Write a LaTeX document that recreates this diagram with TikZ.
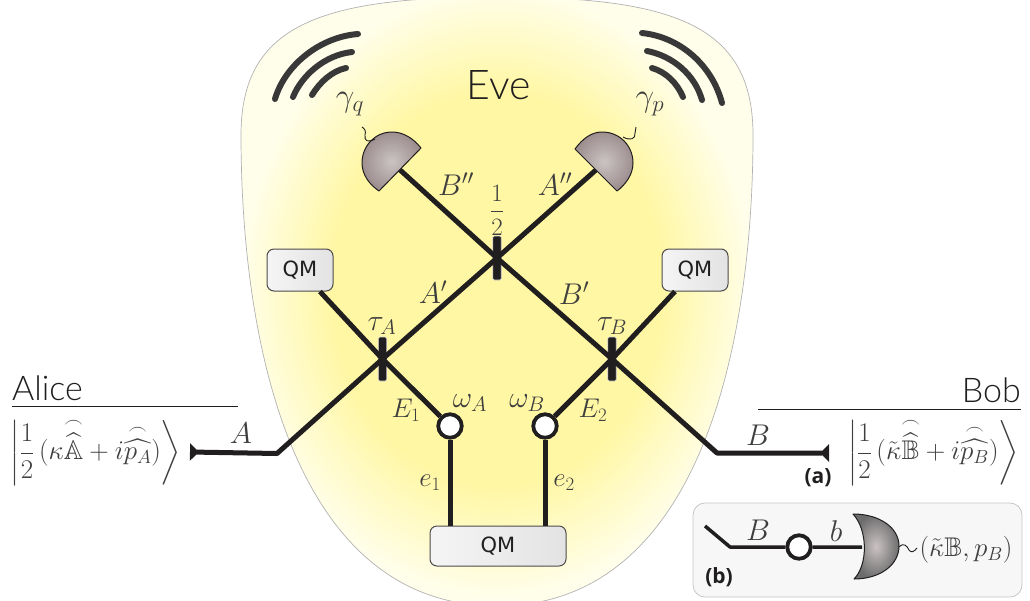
\documentclass[tikz,border=0pt]{standalone}
\usepackage{fix-cm}
\usepackage{amsmath,amssymb}
\usepackage{fontspec}
\usepackage{xcolor}
\usetikzlibrary{arrows.meta,shapes,positioning,calc}
\newfontfamily\thinfont{Lato Light}
\newfontfamily\qmfont{DejaVu Sans}
\newfontfamily\tagfont{Open Sans}
\definecolor{linedark}{RGB}{32, 30, 30}
\definecolor{labelgray}{RGB}{62, 62, 62}
\definecolor{eveyellow}{RGB}{255, 247, 163}
\definecolor{evepale}{RGB}{255, 254, 234}
\definecolor{detinner}{RGB}{203, 195, 195}
\definecolor{detouter}{RGB}{158, 143, 143}
\definecolor{panelgray}{RGB}{247, 247, 247}
\pgfdeclareradialshading{evefade}{\pgfpoint{0bp}{1.5bp}}{color(0bp)=(eveyellow); color(16bp)=(eveyellow); color(25bp)=(evepale); color(50bp)=(evepale)}
\newcommand{\fsz}[1]{\fontsize{#1}{#1}\selectfont}
\newcommand{\wifihat}[1]{\overset{\frown}{\widehat{#1}}}
\tikzset{
    beam/.style={line width=5pt,linedark},
    wave/.style={line width=6pt,labelgray!90!black,line cap=round},
    wiggle/.style={line width=0.9pt,linedark},
    lab/.style={text=labelgray,inner sep=0pt,font=\fsz{30}},
    labsmall/.style={text=labelgray,inner sep=0pt,font=\fsz{27}},
    ketlab/.style={text=labelgray,inner sep=0pt,font=\fsz{27}},
    namelab/.style={text=linedark,inner sep=0pt,font=\thinfont\fsz{34}},
    tag/.style={text=linedark,inner sep=0pt,font=\tagfont\bfseries\fsz{21}},
    splitter/.style={fill=linedark,draw=gray!30,line width=0.6pt,rounded corners=1.5pt,minimum width=8.5pt,minimum height=44pt,inner sep=0pt},
    mode/.style={circle,fill=white,draw=linedark,line width=3.8pt,minimum size=23.5pt,inner sep=0pt},
    memory/.style={rounded corners=7pt,draw=linedark!80,line width=1pt,left color=gray!8,right color=gray!22,text=linedark,font=\qmfont\fsz{21},inner sep=0pt},
    detector/.style={draw=linedark,line width=1pt,line join=round,inner color=detinner,outer color=detouter},
}
\begin{document}
\begin{tikzpicture}[x=1pt,y=-1pt]
    \clip (0,0) rectangle (1030,600);
    \useasboundingbox (0,0) rectangle (1030,600);

    % Eve's region
    \shade[shading=evefade,draw=gray!60,line width=0.7pt] (497,-3) .. controls (320,-3) and (241,25) .. (241,135)
        .. controls (241,340) and (292,606) .. (497,606)
        .. controls (702,606) and (753,340) .. (753,135)
        .. controls (753,25) and (674,-3) .. (497,-3) -- cycle;

    % Elements
    \node[splitter] (bsC) at (497,258) {};
    \node[splitter] (bsA) at (382.5,359) {};
    \node[splitter] (bsB) at (612,359) {};
    \node[mode] (smA) at (450,426) {};
    \node[mode] (smB) at (545,426) {};
    \node[memory,minimum width=66pt,minimum height=42pt] (qmL) at (300,270) {QM};
    \node[memory,minimum width=66pt,minimum height=42pt] (qmR) at (695,270) {QM};
    \node[memory,minimum width=136pt,minimum height=40pt] (qmE) at (498,546) {QM};
    \coordinate (tipA) at (190,452);
    \coordinate (kneeA) at (277,453.5);
    \coordinate (tipB) at (829,453);
    \coordinate (kneeB) at (717,453);
    \coordinate (detL) at (399,169);
    \coordinate (detR) at (597,169);

    % Beams
    \draw[beam,line join=round,{Triangle[reversed,length=9pt,width=17pt]}-] (tipA) -- (kneeA) -- (bsA.center) -- (bsC.center) -- (detR);
    \draw[beam,line join=round,{Triangle[reversed,length=9pt,width=17pt]}-] (tipB) -- (kneeB) -- (bsB.center) -- (bsC.center) -- (detL);
    \draw[beam] (qmL) -- (bsA.center) -- (smA);
    \draw[beam] (qmR) -- (bsB.center) -- (smB);
    \draw[beam] (smA) -- (smA |- qmE.north);
    \draw[beam] (smB) -- (smB |- qmE.north);

    % Homodyne detectors
    \shade[detector] (421,148) .. controls (413,138) and (403,132) .. (392,132) .. controls (375,132) and (362,146) .. (362,163) .. controls (362,175) and (370,185) .. (379,191) -- cycle;
    \shade[detector] (575,149) .. controls (583,138) and (592,132) .. (602,132) .. controls (620,132) and (633,146) .. (633,163) .. controls (633,175) and (625,185) .. (617,191) -- cycle;
    \draw[wiggle] (375,139) .. controls (368,143) and (364,141) .. (365,135) .. controls (366,131) and (365,129) .. (362,127);
    \draw[wiggle] (623,137) .. controls (630,141) and (636,139) .. (635,133) -- (636,127);

    % Radio waves
    \draw[wave] (275,99) .. controls (285,65) and (320,37) .. (358,34);
    \draw[wave] (293,97) .. controls (302,75) and (325,55) .. (352,52);
    \draw[wave] (312,95) .. controls (320,82) and (332,71) .. (346,68);
    \draw[wave] (642,33) .. controls (680,37) and (712,65) .. (722,103);
    \draw[wave] (647,51) .. controls (673,56) and (695,75) .. (702,100);
    \draw[wave] (652,68) .. controls (666,72) and (677,83) .. (683,97);

    % Labels
    \node[namelab,font=\thinfont\fsz{41}] (eve) at (499,85) {Eve};
    \node[lab,font=\fsz{33}] (gq) at (350,104) {$\gamma_q$};
    \node[lab,font=\fsz{33}] (gp) at (650,104) {$\gamma_p$};
    \node[lab] (lbB2) at (456,184) {$B''$};
    \node[lab] (lbA2) at (555,184) {$A''$};
    \node[ketlab,font=\fsz{25}] (half) at (497,210) {$\dfrac{1}{2}$};
    \node[lab] (lbA1) at (433,292) {$A'$};
    \node[lab] (lbB1) at (574,293) {$B'$};
    \node[lab] (tA) at (382,326) {$\tau_A$};
    \node[lab] (tB) at (612,326) {$\tau_B$};
    \node[labsmall] (lbE1) at (406,410) {$E_1$};
    \node[labsmall] (lbE2) at (593,410) {$E_2$};
    \node[lab] (wA) at (470,403) {$\omega_A$};
    \node[lab] (wB) at (527,403) {$\omega_B$};
    \node[labsmall] (lbe1) at (430,483) {$e_1$};
    \node[labsmall] (lbe2) at (564,483) {$e_2$};
    \node[lab] (lbA) at (241,433) {$A$};
    \node[lab] (lbB) at (758,435) {$B$};

    % Alice
    \node[namelab,anchor=west] (alice) at (12,388) {Alice};
    \coordinate (ruleA1) at (12,406);
    \coordinate (ruleA2) at (238,406);
    \draw[linedark,line width=0.9pt] (ruleA1) -- (ruleA2);
    \node[ketlab] (ketA) at (96,452) {$\bigg|\dfrac{1}{2}\,(\kappa\wifihat{\mathbb{A}}+i\wifihat{p_A})\bigg\rangle$};

    % Bob
    \node[namelab,anchor=east] (bob) at (1021,390) {Bob};
    \coordinate (ruleB1) at (758,409);
    \coordinate (ruleB2) at (1021,409);
    \draw[linedark,line width=0.9pt] (ruleB1) -- (ruleB2);
    \node[ketlab] (ketB) at (933.5,452) {$\bigg|\dfrac{1}{2}\,(\tilde{\kappa}\wifihat{\mathbb{B}}+i\wifihat{p_B})\bigg\rangle$};
    \node[tag] (tagA) at (818,478) {(a)};

    % Inset
    \draw[draw=gray!45,fill=panelgray,line width=0.8pt,rounded corners=12pt] (693,503) rectangle (1022,597);
    \coordinate (inStart) at (705,526);
    \coordinate (inKnee) at (730,547);
    \node[mode] (inMode) at (799,547) {};
    \coordinate (inDet) at (862,547);
    \draw[line width=3.5pt,linedark,line join=round] (inStart) -- (inKnee) -- (inMode) -- (inDet);
    \shade[detector,inner color=detinner,outer color=gray!85!black] (853,514) .. controls (880,514) and (899,528) .. (899,546) .. controls (899,565) and (880,579) .. (854,579) .. controls (868,565) and (868,530) .. (853,514) -- cycle;
    \draw[wiggle] (899,547) .. controls (904,542) and (907,546) .. (909,550) .. controls (911,553) and (914,552) .. (917,548);
    \node[lab] (inB) at (758,530) {$B$};
    \node[lab] (inb) at (836,531) {$b$};
    \node[ketlab] (inOut) at (966,550) {$(\tilde{\kappa}\mathbb{B},p_B)$};
    \node[tag] (tagB) at (719,577) {(b)};
\end{tikzpicture}
\end{document}
